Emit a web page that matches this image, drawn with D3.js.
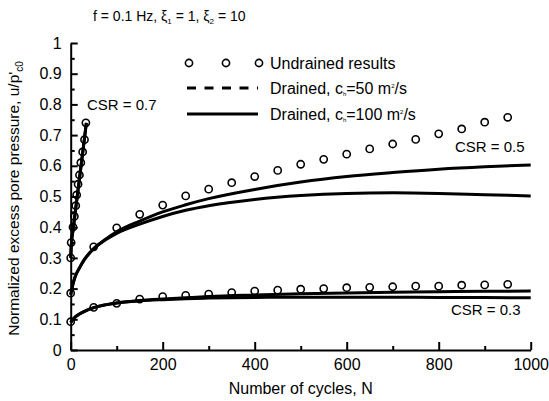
<!DOCTYPE html>
<html>
<head>
<meta charset="utf-8">
<script src="https://cdn.jsdelivr.net/npm/d3@7/dist/d3.min.js"></script>
<style>
  html, body { margin: 0; padding: 0; background: #fff; }
  svg { display: block; font-family: Arial, "Liberation Sans", sans-serif; }
</style>
</head>
<body>
<svg id="chart" width="549" height="401"></svg>
<script>
// cycles used for the drained model curves
const modelN = [0, 5, 10, 20, 30, 50, 75, 100, 150, 200, 250, 300, 400, 500, 600, 700, 800, 900, 1000];
const csr05_ch50  = [0.18, 0.215, 0.24, 0.27, 0.295, 0.33, 0.36, 0.385, 0.42, 0.45, 0.473, 0.493, 0.523, 0.547, 0.565, 0.578, 0.589, 0.597, 0.603];
const csr05_ch100 = [0.18, 0.215, 0.24, 0.27, 0.295, 0.33, 0.358, 0.38, 0.41, 0.435, 0.455, 0.47, 0.49, 0.503, 0.51, 0.512, 0.51, 0.506, 0.502];
const csr03_ch50  = [0.09, 0.1, 0.108, 0.118, 0.126, 0.138, 0.147, 0.153, 0.161, 0.166, 0.17, 0.174, 0.179, 0.183, 0.186, 0.188, 0.19, 0.191, 0.192];
const csr03_ch100 = [0.09, 0.1, 0.108, 0.118, 0.126, 0.138, 0.147, 0.153, 0.16, 0.164, 0.167, 0.169, 0.171, 0.172, 0.172, 0.172, 0.171, 0.171, 0.17];
const csr07N      = [0, 1, 2, 5, 10, 15, 20, 25, 30, 34];
const csr07_ch50  = [0.3, 0.335, 0.355, 0.39, 0.45, 0.51, 0.57, 0.63, 0.69, 0.74];
const csr07_ch100 = [0.3, 0.335, 0.355, 0.39, 0.45, 0.51, 0.57, 0.63, 0.69, 0.74];

// undrained test results
const undrainedN = [0, 50, 100, 150, 200, 250, 300, 350, 400, 450, 500, 550, 600, 650, 700, 750, 800, 850, 900, 950];
const undrained05 = [0.185, 0.336, 0.398, 0.442, 0.472, 0.502, 0.524, 0.545, 0.565, 0.585, 0.605, 0.621, 0.638, 0.655, 0.671, 0.686, 0.704, 0.72, 0.742, 0.758];
const undrained03 = [0.092, 0.139, 0.152, 0.166, 0.174, 0.178, 0.182, 0.187, 0.192, 0.195, 0.198, 0.2, 0.203, 0.204, 0.206, 0.208, 0.208, 0.211, 0.212, 0.214];
const undrained07N = [0, 1, 5, 8, 11, 13, 16, 19, 22, 26, 30, 33];
const undrained07 = [0.3, 0.35, 0.4, 0.435, 0.47, 0.505, 0.54, 0.57, 0.61, 0.645, 0.685, 0.74];

const xTicks = [0, 200, 400, 600, 800, 1000];
const xMinor = [100, 300, 500, 700, 900];
const yTicks = [0, 0.1, 0.2, 0.3, 0.4, 0.5, 0.6, 0.7, 0.8, 0.9, 1];
const yMinor = [0.05, 0.15, 0.25, 0.35, 0.45, 0.55, 0.65, 0.75, 0.85, 0.95];

const svg = d3.select("#chart");
const margin = {top: 43, right: 18.3, bottom: 51, left: 70.7};
const W = 549, H = 401;

const x = d3.scaleLinear().domain([0, 1000]).range([margin.left, W - margin.right]);
const y = d3.scaleLinear().domain([0, 1]).range([H - margin.bottom, margin.top]);

const zip = (xs, ys) => xs.map((n, i) => [n, ys[i]]);
const line = d3.line().x(d => x(d[0])).y(d => y(d[1])).curve(d3.curveMonotoneX);

// axes, ticks pointing inward
const fmt = d => d === 0 ? "0" : String(+d.toFixed(2));
svg.append("g").attr("transform", `translate(${margin.left},0)`)
  .call(d3.axisLeft(y).tickValues(yTicks).tickFormat(fmt).tickSize(-7).tickSizeOuter(0).tickPadding(9));
svg.append("g").attr("transform", `translate(${margin.left},0)`)
  .call(d3.axisLeft(y).tickValues(yMinor).tickFormat("").tickSize(-4).tickSizeOuter(0))
  .select(".domain").remove();
svg.append("g").attr("transform", `translate(0,${H - margin.bottom})`)
  .call(d3.axisBottom(x).tickValues(xTicks).tickFormat(fmt).tickSize(-8).tickSizeOuter(0).tickPadding(9));
svg.append("g").attr("transform", `translate(0,${H - margin.bottom})`)
  .call(d3.axisBottom(x).tickValues(xMinor).tickFormat("").tickSize(-4).tickSizeOuter(0))
  .select(".domain").remove();

svg.selectAll(".domain").attr("stroke", "#000").attr("stroke-width", 2);
svg.selectAll(".tick line").attr("stroke", "#000").attr("stroke-width", 2);
svg.selectAll(".tick text").attr("font-size", 16).attr("font-family", "Arial, 'Liberation Sans', sans-serif").attr("fill", "#000");

// axis titles
svg.append("text")
  .attr("x", (margin.left + W - margin.right) / 2).attr("y", 394)
  .attr("text-anchor", "middle").attr("font-size", 16)
  .text("Number of cycles, N");

const yl = svg.append("text")
  .attr("transform", `translate(19,${(margin.top + H - margin.bottom) / 2 + 2}) rotate(-90)`)
  .attr("text-anchor", "middle").attr("font-size", 15.5);
yl.append("tspan").text("Normalized excess pore pressure, u/p'");
yl.append("tspan").attr("font-size", 10).attr("dy", 4).text("c0");

// title
const title = svg.append("text").attr("x", 93).attr("y", 21).attr("font-size", 14);
title.append("tspan").text("f = 0.1 Hz, ξ");
title.append("tspan").attr("font-size", 8).attr("dy", 3).text("1");
title.append("tspan").attr("dy", -3).text(" = 1, ξ");
title.append("tspan").attr("font-size", 8).attr("dy", 3).text("2");
title.append("tspan").attr("dy", -3).text(" = 10");

// drained curves
const curves = [
  zip(modelN, csr05_ch50), zip(modelN, csr05_ch100),
  zip(modelN, csr03_ch50), zip(modelN, csr03_ch100),
  zip(csr07N, csr07_ch50), zip(csr07N, csr07_ch100)
];
svg.append("g").selectAll("path").data(curves).join("path")
  .attr("d", line).attr("fill", "none").attr("stroke", "#000").attr("stroke-width", 3);

// undrained points
const pts = [].concat(zip(undrainedN, undrained05), zip(undrainedN, undrained03), zip(undrained07N, undrained07));
svg.append("g").selectAll("circle").data(pts).join("circle")
  .attr("cx", d => x(d[0])).attr("cy", d => y(d[1])).attr("r", 3.6)
  .attr("fill", "none").attr("stroke", "#000").attr("stroke-width", 1.6);

// CSR labels
const csrLabels = [["CSR = 0.7", 87, 110], ["CSR = 0.5", 455, 152], ["CSR = 0.3", 451, 315]];
svg.append("g").selectAll("text").data(csrLabels).join("text")
  .attr("x", d => d[1]).attr("y", d => d[2]).attr("font-size", 15).text(d => d[0]);

// legend
const lg = svg.append("g");
[189, 226, 259].forEach(cx => lg.append("circle").attr("cx", cx).attr("cy", 63).attr("r", 3.6)
  .attr("fill", "none").attr("stroke", "#000").attr("stroke-width", 1.6));
lg.append("line").attr("x1", 187).attr("x2", 258).attr("y1", 88).attr("y2", 88)
  .attr("stroke", "#000").attr("stroke-width", 3).attr("stroke-dasharray", "9,8.5");
lg.append("line").attr("x1", 187).attr("x2", 258).attr("y1", 114).attr("y2", 114)
  .attr("stroke", "#000").attr("stroke-width", 3);
lg.append("text").attr("x", 270).attr("y", 69).attr("font-size", 16).text("Undrained results");
const l2 = lg.append("text").attr("x", 270).attr("y", 94).attr("font-size", 16);
l2.append("tspan").text("Drained, c");
l2.append("tspan").attr("font-size", 6).attr("dy", 2).text("h");
l2.append("tspan").attr("dy", -2).text("=50 m");
l2.append("tspan").attr("font-size", 6).attr("dy", -6).text("2");
l2.append("tspan").attr("dy", 6).text("/s");
const l3 = lg.append("text").attr("x", 270).attr("y", 120).attr("font-size", 16);
l3.append("tspan").text("Drained, c");
l3.append("tspan").attr("font-size", 6).attr("dy", 2).text("h");
l3.append("tspan").attr("dy", -2).text("=100 m");
l3.append("tspan").attr("font-size", 6).attr("dy", -6).text("2");
l3.append("tspan").attr("dy", 6).text("/s");
</script>
</body>
</html>
